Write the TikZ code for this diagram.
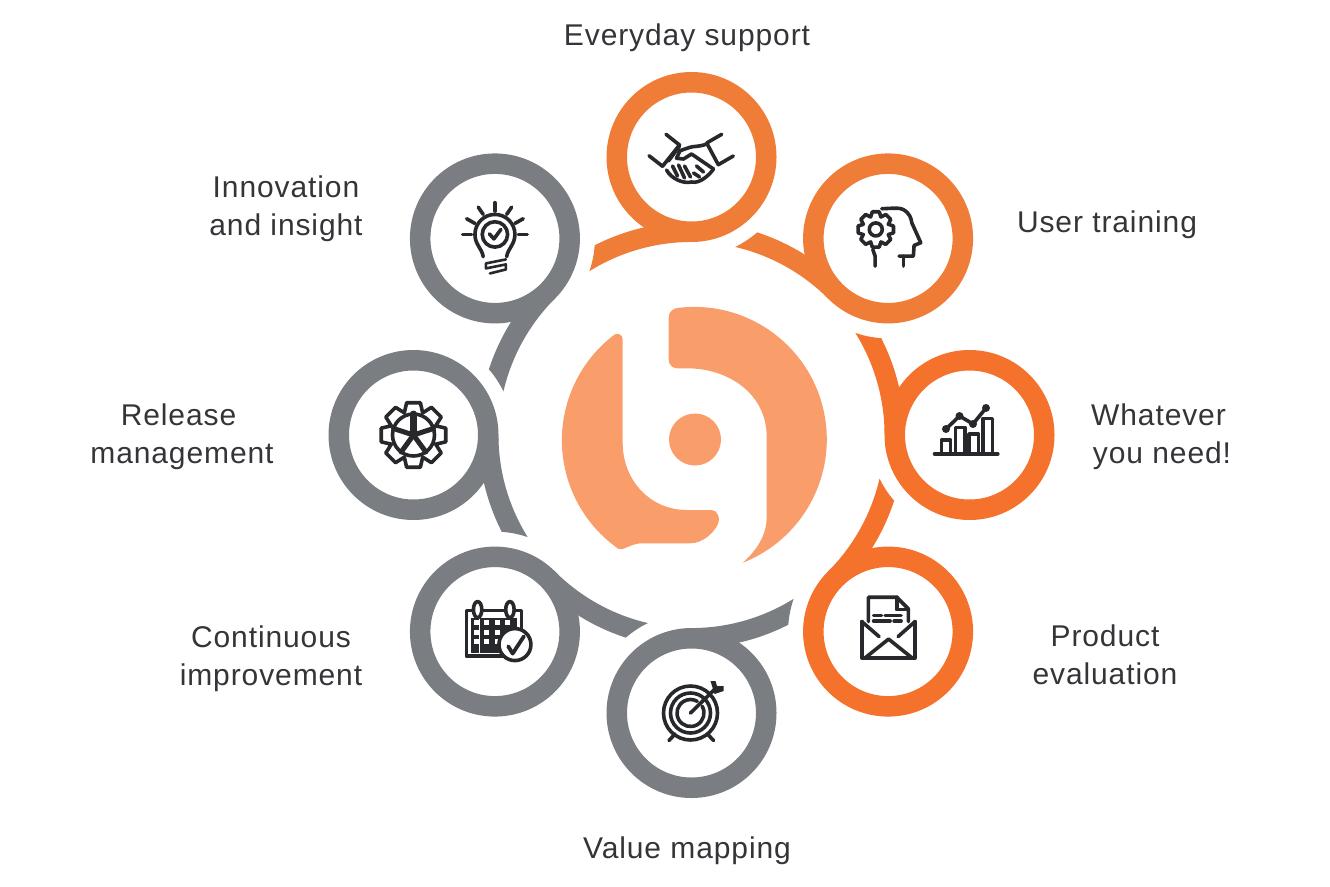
\documentclass[tikz,border=0pt]{standalone}
\usepackage{fontspec}
\setmainfont{Liberation Sans}[LetterSpace=3]
\usepackage{xcolor}
\usetikzlibrary{calc,positioning}

\definecolor{orangeA}{HTML}{EF7D37}
\definecolor{orangeB}{HTML}{F4722B}
\definecolor{greyring}{HTML}{7A7D81}
\definecolor{logofill}{HTML}{F99D6B}
\definecolor{inkdark}{HTML}{27282C}
\definecolor{labelink}{HTML}{333538}

\tikzset{
  ringnode/.style={circle,draw=#1,fill=white,line width=20.5pt,minimum size=149.5pt,inner sep=0pt,outer sep=0pt},
  labelnode/.style={text=labelink,align=center,font=\fontsize{30}{38}\selectfont},
  iconline/.style={draw=inkdark,line width=3.6pt,line cap=round,line join=round}
}

% band round the hub, from a ring up to the white gap of the next ring
\newcommand{\linkarc}[4]{
  \fill[#1] ($(hub)!213pt!(#2)$) arc[start angle=#3,end angle=#4-17.96,radius=213]
    arc[start angle=#4+221.05,end angle=#4+205.86,radius=100]
    arc[start angle=#4-13.06,end angle=#3,radius=193] -- cycle;
}

\begin{document}
\begin{tikzpicture}[x=1pt,y=1pt]
  \useasboundingbox (0,0) rectangle (1330,-886);
  \coordinate (hub) at (691.5,-435);
  \coordinate (everyday) at ($(hub)+(90:278)$);
  \coordinate (usertrain) at ($(hub)+(45:278)$);
  \coordinate (whatever) at ($(hub)+(0:278)$);
  \coordinate (product) at ($(hub)+(-45:278)$);
  \coordinate (valuemap) at ($(hub)+(-90:278)$);
  \coordinate (continuous) at ($(hub)+(-135:278)$);
  \coordinate (release) at ($(hub)+(180:278)$);
  \coordinate (innovation) at ($(hub)+(135:278)$);

  \linkarc{orangeA}{everyday}{90}{135}
  \linkarc{greyring}{innovation}{135}{180}
  \linkarc{greyring}{release}{180}{225}
  \linkarc{greyring}{continuous}{225}{270}
  \linkarc{greyring}{valuemap}{270}{315}
  \linkarc{orangeB}{product}{315}{360}
  \linkarc{orangeB}{whatever}{0}{45}
  \linkarc{orangeA}{usertrain}{45}{90}

  \node[ringnode=orangeA] (ring1) at (everyday) {};
  \node[ringnode=orangeA] (ring2) at (usertrain) {};
  \node[ringnode=orangeB] (ring3) at (whatever) {};
  \node[ringnode=orangeB] (ring4) at (product) {};
  \node[ringnode=greyring] (ring5) at (valuemap) {};
  \node[ringnode=greyring] (ring6) at (continuous) {};
  \node[ringnode=greyring] (ring7) at (release) {};
  \node[ringnode=greyring] (ring8) at (innovation) {};

  % logo
  \fill[logofill] (611.7,-336.7) arc[start angle=128.6,end angle=235,radius=132.5]
    .. controls (623,-551) and (628,-545) .. (640,-543.3) -- (690,-543.3)
    .. controls (703,-543.3) and (713,-533) .. (717,-526)
    .. controls (721,-519) and (718,-510) .. (711.7,-510) -- (686.7,-510)
    .. controls (650,-510) and (622.7,-480) .. (622.7,-443) -- (622.7,-340)
    .. controls (622.7,-333) and (616,-332) .. cycle;
  \fill[logofill] (680,-307.7) arc[start angle=96.2,end angle=-68.6,radius=132.5]
    .. controls (757,-550) and (766.7,-535) .. (766.7,-516.7) -- (766.7,-436.7)
    .. controls (766.7,-395) and (730,-368.3) .. (686.7,-368.3) -- (677,-368.3)
    .. controls (672,-368.3) and (668.7,-364) .. (668.7,-360) -- (668.7,-317)
    .. controls (668.7,-312) and (673,-307.7) .. cycle;
  \fill[logofill] (695,-439.5) circle (26);

  % handshake
  \begin{scope}[shift={(ring1.center)}]
    \draw[iconline] (-25.5,22.7) -- (-12,12) -- (-29,-9.3);
    \draw[iconline] (-42.5,1.3) -- (-29,-9.3);
    \draw[iconline] (30.2,22.7) -- (15.2,14) -- (26.8,-7.7) -- (41.8,1);
    \draw[iconline] (15,13) .. controls (8,10) and (2,11) .. (-1.5,9.7) -- (-11.5,6.3) -- (-15,-1.3) -- (-8,-2) -- (0,3) -- (22,-12);
    \draw[iconline] (-25,-13) .. controls (-20,-22) and (-8,-27) .. (0,-25) .. controls (8,-27) and (18,-18) .. (22,-12);
    \draw[iconline] (-12,11) -- (-23,-4);
    \foreach \xa/\ya/\xb/\yb in {-19/-9/-14/-19,-13/-8/-7/-21,-7/-9/-1/-20,5/-9/12/-15,2/-16/8/-20}
      \draw[iconline] (\xa,\ya) -- (\xb,\yb);
  \end{scope}

  % head with gear
  \begin{scope}[shift={(ring2.center)}]
    \draw[iconline] (-6.3,29.7) .. controls (2,30) and (12,31) .. (15,29) .. controls (22,25) and (23,20) .. (23.7,15.7) -- (32.7,-4.3) -- (26,-7) -- (25.3,-17.7) -- (11,-17.7);
    \draw[iconline] (15.3,-17.7) -- (15.3,-27.7);
    \draw[iconline] (-15.3,-11) -- (-13,-17.7) -- (-13,-27.7);
    \foreach \a in {0,45,...,315}
      \draw[iconline] ($(-12.3,9)+(\a-11:18)$) -- ($(-12.3,9)+(\a+11:18)$) -- ($(-12.3,9)+(\a+22.5:13.5)$) -- ($(-12.3,9)+(\a+34:18)$);
    \draw[iconline] (-12.3,9) circle (6.5);
  \end{scope}

  % chart
  \begin{scope}[shift={(ring3.center)}]
    \draw[iconline] (-35,-18.8) -- (28.3,-18.8);
    \foreach \xa/\xb/\yt in {-28/-19/-5,-14/-4.5/7.5,-0.5/9/1,13.5/23/16.5}
      \draw[iconline] (\xa,-18.8) -- (\xa,\yt) -- (\xb,\yt) -- (\xb,-18.8);
    \draw[iconline] (-23.5,6) -- (-10,19) -- (3.5,11) -- (16.5,27);
    \foreach \xa/\ya in {-23.5/6,-10/19,3.5/11,16.5/27}
      \fill[inkdark] (\xa,\ya) circle (4);
  \end{scope}

  % envelope
  \begin{scope}[shift={(ring4.center)}]
    \draw[iconline] (-26.3,10) -- (-26.3,-26.3) -- (27,-26.3) -- (27,10);
    \draw[iconline] (-26.3,10) -- (-9,-5);
    \draw[iconline] (27,10) -- (10,-5);
    \draw[iconline] (-23,-26.3) -- (0.5,-7.5) -- (24,-26.3);
    \draw[iconline] (-19.7,10) -- (-19.7,34.3) -- (8.7,34.3) -- (20.3,22.7) -- (20.3,10);
    \draw[iconline] (8.7,34.3) -- (8.7,22) -- (20.3,22);
    \foreach \xa/\ya/\xb in {-14.5/16/-6.5,-3/16/13,-14.5/10.5/2,6/10.5/13}
      \draw[iconline] (\xa,\ya) -- (\xb,\ya);
  \end{scope}

  % target
  \begin{scope}[shift={(ring5.center)}]
    \draw[iconline] (-1,0) circle (27);
    \draw[iconline] (-1,0) circle (20);
    \draw[iconline] (-1,0) ++(30:13.5) arc[start angle=30,end angle=-300,radius=13.5];
    \draw[iconline] (-1,0) -- (23.5,24);
    \fill[inkdark] (19,32) -- (24,32) -- (25.5,27) -- (32,27) -- (32,22) -- (23,19) -- cycle;
    \draw[iconline] (-22.5,-27.5) -- (-16.5,-21);
    \draw[iconline] (22,-27.5) -- (16,-21);
  \end{scope}

  % calendar
  \begin{scope}[shift={(ring6.center)}]
    \draw[iconline] (-28.3,21) rectangle (26.7,-24.7);
    \fill[inkdark] (-24,13.7) rectangle (22,-21);
    \foreach \xa in {-20.5,-11,0.5,10}
      \foreach \ya in {6.5,-3,-12.5}
        \fill[white] (\xa,\ya) rectangle ++(5,5);
    \draw[white,line width=1pt] (-15.5,13.7) -- (-15.5,-21);
    \draw[iconline,fill=white] (-17.3,22) ellipse (4.2 and 8);
    \draw[iconline,fill=white] (15,22) ellipse (4.2 and 8);
    \draw[iconline,fill=white] (20,-13) circle (16);
    \draw[iconline,line width=3.8pt] (13.3,-14.7) -- (17.7,-22) -- (29,-4.7);
  \end{scope}

  % star gear
  \begin{scope}[shift={(ring7.center)}]
    \foreach \a in {0,45,...,315}
      \draw[iconline] (\a-12:33) -- (\a+12:33) -- (\a+22.5:24) -- (\a+33:33);
    \draw[iconline] (0,0) circle (21);
    \foreach \a in {162,18,234,306}
      \draw[iconline,line width=5pt] (0,0) -- (\a:21);
    \draw[iconline,line width=7pt] (0,0) -- (90:21);
  \end{scope}

  % bulb
  \begin{scope}[shift={(ring8.center)}]
    \foreach \xa/\ya/\xb/\yb in {0/35.7/0/27.3,-16.7/31.3/-11.7/24,16.7/31.3/11.7/24,-28.3/19.7/-20/15,28.3/19.7/20/15,-32.3/4/-23.3/4,32.3/4/23.3/4}
      \draw[iconline] (\xa,\ya) -- (\xb,\yb);
    \draw[iconline] (-11.7,-18.3) .. controls (-13,-10) and (-20,-6) .. (-20,4) arc[start angle=180,end angle=0,radius=20] .. controls (20,-6) and (13,-10) .. (11.7,-18.3);
    \draw[iconline] (0,4) circle (12.7);
    \draw[iconline] (-5.5,4.5) -- (-1,-0.5) -- (6,9);
    \draw[iconline,line width=2.6pt] (11,-21) -- (-9,-25) -- (-9,-30) -- (11,-26) -- (11,-31) -- (-5,-35);
  \end{scope}

  \node[labelnode] (lab1) at (687,-38) {Everyday support};
  \node[labelnode] (lab2) at (1107,-225) {User training};
  \node[labelnode] (lab3) at (1162,-437) {Whatever\kern7pt\\you need!};
  \node[labelnode] (lab4) at (1105,-655) {Product\\evaluation};
  \node[labelnode] (lab5) at (687,-851) {Value mapping};
  \node[labelnode] (lab6) at (271,-659) {Continuous\\improvement};
  \node[labelnode] (lab7) at (182,-437) {Release\kern7pt\\management};
  \node[labelnode] (lab8) at (286,-209) {Innovation\\and insight};
\end{tikzpicture}
\end{document}
